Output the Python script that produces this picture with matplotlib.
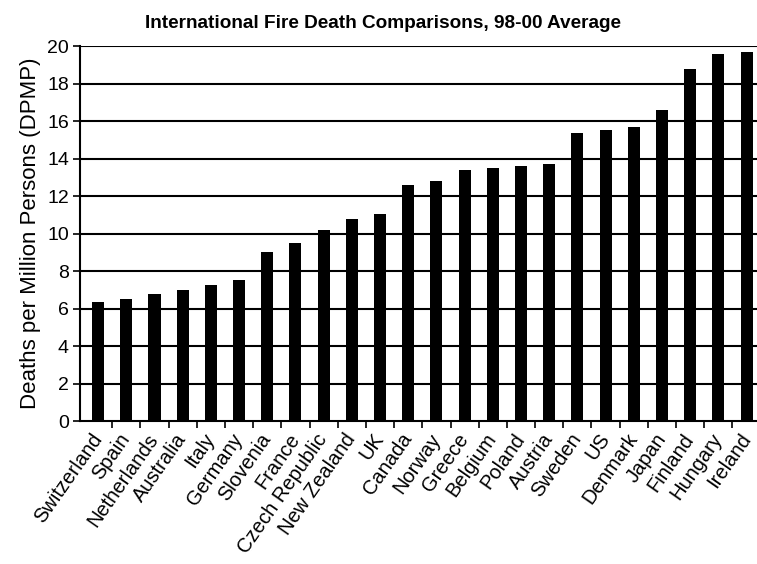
import numpy as np
import matplotlib
matplotlib.use('Agg')
import matplotlib.pyplot as plt
from matplotlib.ticker import FixedLocator

plt.rcParams['font.family'] = ['Liberation Sans', 'DejaVu Sans']

# Data
countries = ['Switzerland', 'Spain', 'Netherlands', 'Australia', 'Italy', 'Germany',
             'Slovenia', 'France', 'Czech Republic', 'New Zealand', 'UK', 'Canada',
             'Norway', 'Greece', 'Belgium', 'Poland', 'Austria', 'Sweden', 'US',
             'Denmark', 'Japan', 'Finland', 'Hungary', 'Ireland']
dpmp = [6.35, 6.55, 6.8, 7.0, 7.25, 7.55, 9.05, 9.5, 10.2, 10.8, 11.05, 12.6,
        12.8, 13.4, 13.5, 13.6, 13.7, 15.35, 15.5, 15.7, 16.6, 18.75, 19.6, 19.7]
yticks = [0, 2, 4, 6, 8, 10, 12, 14, 16, 18, 20]

fig = plt.figure(figsize=(7.57, 5.64), dpi=100)
ax = fig.add_axes([0.1057, 0.2527, 0.8943, 0.6657])

x = np.arange(len(countries))
ax.bar(x, dpmp, width=0.43, color='black', zorder=3)

# horizontal gridlines
for v in yticks[1:]:
    ax.axhline(v, color='black', linewidth=1.5, zorder=1)

ax.set_ylim(0, 20)
ax.set_xlim(-0.64, 23.37)
ax.set_yticks(yticks)
ax.set_xticks(x)
ax.set_xticklabels(countries, rotation=55, ha='right', va='center',
                   rotation_mode='anchor', fontsize=14.5)
ax.xaxis.set_minor_locator(FixedLocator(x[:-1] + 0.5))
ax.tick_params(axis='x', which='major', length=0, pad=10)
ax.tick_params(axis='x', which='minor', length=5, width=1.2, direction='out')
ax.tick_params(axis='y', length=5, width=1.2, labelsize=14, pad=3)

for s in ['top', 'right']:
    ax.spines[s].set_visible(False)
ax.spines['left'].set_linewidth(1.5)
ax.spines['bottom'].set_linewidth(1.5)

ax.set_ylabel('Deaths per Million Persons (DPMP)', fontsize=16, labelpad=4)
fig.text(0.506, 0.958, 'International Fire Death Comparisons, 98-00 Average',
         ha='center', va='center', fontsize=13.7, fontweight='bold')

fig.savefig('out.png', dpi=100)
